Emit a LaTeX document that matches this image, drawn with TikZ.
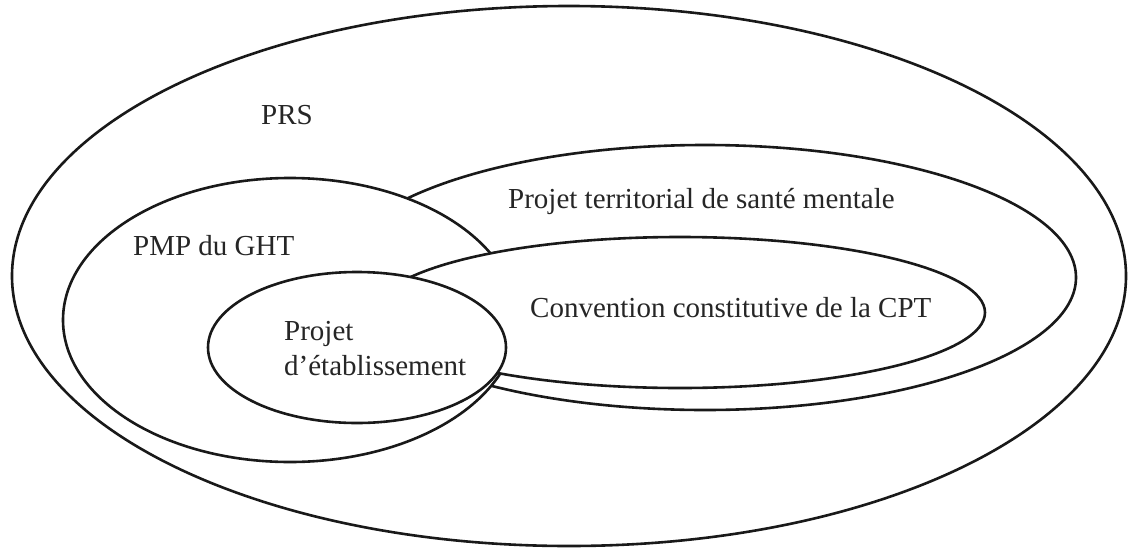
\documentclass[tikz,border=0pt]{standalone}
\usepackage{fontspec}
\setmainfont{Liberation Serif}
\begin{document}
\begin{tikzpicture}[x=1pt,y=-1pt,
  outline/.style={draw=black!90, line width=2.6pt, fill=white},
  lbl/.style={anchor=base west, inner sep=0pt, text=black!85,
    font=\fontsize{29}{34}\selectfont}]
\useasboundingbox (0,0) rectangle (1129,549);
% PRS
\draw[outline] (569,276) ellipse [x radius=557pt, y radius=270pt];
% Projet territorial de santé mentale
\draw[outline] (705,277.5) ellipse [x radius=371pt, y radius=132.5pt];
% PMP du GHT
\draw[outline] (290,320) ellipse [x radius=227pt, y radius=142pt];
% Convention constitutive de la CPT
\draw[outline] (680,312.5) ellipse [x radius=305pt, y radius=75.5pt];
% Projet d'établissement
\draw[outline] (357,347.5) ellipse [x radius=149pt, y radius=75.5pt];
% labels
\node[lbl] (tprs) at (261,124) {PRS};
\node[lbl] (tptsm) at (508,208) {Projet territorial de santé mentale};
\node[lbl] (tpmp) at (133,255) {PMP du GHT};
\node[lbl] (tcpt) at (530,317) {Convention constitutive de la CPT};
\node[lbl] (tpe1) at (284,340) {Projet};
\node[lbl] (tpe2) at (284,375) {d’établissement};
\end{tikzpicture}
\end{document}
